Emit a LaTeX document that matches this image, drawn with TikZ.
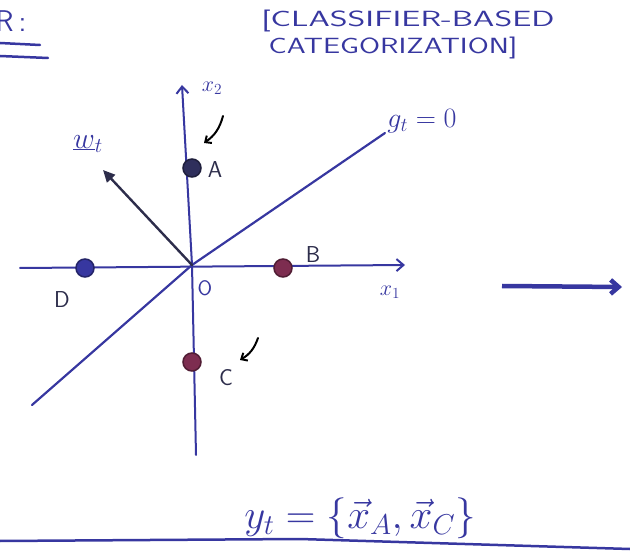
\RequirePackage{fix-cm}
\documentclass[tikz,border=0pt]{standalone}
\usetikzlibrary{arrows.meta}
\definecolor{ink}{RGB}{55,55,160}
\definecolor{wine}{RGB}{125,45,80}
\definecolor{graphite}{RGB}{45,45,75}

\begin{document}
\begin{tikzpicture}[x=1pt,y=-1pt,
  pen/.style={ink,line width=2pt,line cap=round},
  dot/.style={circle,draw=#1!65!black,fill=#1,line width=1.5pt,minimum size=18pt,inner sep=0pt},
  lbl/.style={text=graphite,font=\sffamily\fontsize{23}{25}\selectfont},
  hint/.style={black,line width=2pt,line cap=round,-{Straight Barb[length=5pt,width=9pt]}}]
\useasboundingbox (0,0) rectangle (630,556);
% heading
\node[ink,anchor=east,font=\sffamily\fontsize{30}{32}\selectfont] (sec) at (30,21) {R\,:};
\coordinate (u1) at (0,43); \coordinate (u2) at (40,45);
\coordinate (u3) at (0,56); \coordinate (u4) at (48,58);
\draw[pen,line width=2.5pt] (u1)--(u2);
\draw[pen,line width=2.5pt] (u3)--(u4);
\node[ink,font=\sffamily\fontsize{22}{24}\selectfont] (title1) at (408,21) {\scalebox{1.55}[1]{[CLASSIFIER-BASED}};
\node[ink,font=\sffamily\fontsize{22}{24}\selectfont] (title2) at (393,48) {\scalebox{1.38}[1]{CATEGORIZATION]}};
% axes
\coordinate (O) at (192,265);
\coordinate (xl) at (20,268); \coordinate (xr) at (405,265);
\coordinate (yb) at (196,455); \coordinate (yt) at (182,85);
\draw[pen,-{Straight Barb[length=7pt,width=12pt]}] (xl)--(xr);
\draw[pen,-{Straight Barb[length=7pt,width=12pt]}] (yb)--(O)--(yt);
\node[ink,font=\fontsize{22}{24}\selectfont] (x1) at (390,292) {$x_1$};
\node[ink,font=\fontsize{22}{24}\selectfont] (x2) at (212,88) {$x_2$};
\node[ink,font=\sffamily\fontsize{21}{23}\selectfont] (o) at (205,288) {O};
% decision boundary
\coordinate (g1) at (32,405); \coordinate (g2) at (385,133);
\draw[pen,line width=2.2pt] (g1)--(O)--(g2);
\node[ink,font=\fontsize{28}{30}\selectfont] (g) at (422,121) {$g_t=0$};
% weight vector
\coordinate (w) at (103,170);
\draw[graphite,line width=2.4pt,line cap=round,-{Triangle[length=12pt,width=11pt]}] (O)--(w);
\node[ink,font=\fontsize{30}{32}\selectfont] (wt) at (88,144) {$\underline{w}_t$};
% points
\node[dot=graphite!80!ink] (A) at (192,168) {};
\node[dot=ink] (D) at (85,268) {};
\node[dot=wine] (B) at (283,268) {};
\node[dot=wine] (C) at (192,362) {};
\node[lbl] (lA) at (215,170) {A};
\node[lbl] (lB) at (313,255) {B};
\node[lbl] (lC) at (226,378) {C};
\node[lbl] (lD) at (62,300) {D};
% pointers
\coordinate (pA1) at (223,116); \coordinate (pA2) at (204,143);
\coordinate (pC1) at (258,338); \coordinate (pC2) at (240,360);
\draw[hint] (pA1) to[bend left=20] (pA2);
\draw[hint] (pC1) to[bend left=20] (pC2);
% big arrow
\coordinate (r1) at (502,286); \coordinate (r2) at (622,287);
\draw[ink,line width=4.5pt,-{Straight Barb[length=8pt,width=14pt]}] (r1)--(r2);
% result
\node[ink,font=\fontsize{41}{43}\selectfont] (res) at (360,518) {$y_t=\{\vec{x}_A,\vec{x}_C\}$};
\coordinate (b1) at (0,541); \coordinate (bm) at (300,539); \coordinate (b2) at (630,549);
\draw[pen,line width=2.5pt] (b1)--(bm)--(b2);
\end{tikzpicture}
\end{document}
